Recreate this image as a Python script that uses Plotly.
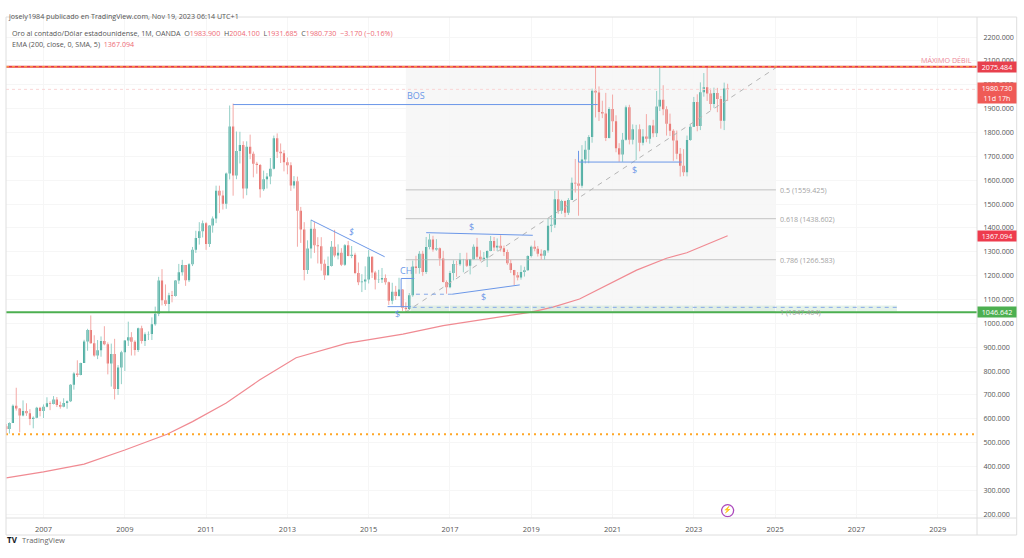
import pandas as pd
import plotly.graph_objects as go

# velas mensuales XAUUSD (ene 2006 - nov 2023)
months = pd.date_range('2006-01-01', '2023-11-01', freq='MS')

opens = [
    517, 569, 557, 582, 654, 643, 614, 632, 623, 599, 604, 646,
    632, 650, 665, 662, 681, 658, 650, 666, 673, 743, 790, 783,
    834, 924, 972, 917, 865, 887, 926, 912, 832, 871, 725, 815,
    879, 928, 942, 923, 888, 979, 926, 954, 955, 996, 1040, 1180,
    1097, 1081, 1118, 1115, 1179, 1214, 1244, 1181, 1248, 1308, 1358, 1386,
    1420, 1333, 1410, 1439, 1556, 1536, 1501, 1628, 1825, 1620, 1722, 1747,
    1565, 1740, 1711, 1669, 1664, 1562, 1604, 1615, 1648, 1776, 1719, 1713,
    1675, 1663, 1578, 1596, 1472, 1393, 1224, 1314, 1396, 1327, 1323, 1250,
    1201, 1240, 1321, 1284, 1296, 1246, 1327, 1282, 1287, 1211, 1172, 1175,
    1184, 1279, 1213, 1183, 1184, 1190, 1172, 1095, 1132, 1115, 1142, 1065,
    1060, 1118, 1238, 1232, 1292, 1215, 1320, 1351, 1309, 1315, 1272, 1173,
    1151, 1211, 1249, 1248, 1268, 1268, 1241, 1269, 1321, 1279, 1270, 1275,
    1303, 1345, 1318, 1325, 1315, 1299, 1252, 1224, 1201, 1192, 1215, 1222,
    1282, 1321, 1313, 1292, 1283, 1305, 1409, 1413, 1520, 1472, 1513, 1464,
    1517, 1589, 1586, 1577, 1687, 1728, 1781, 1975, 1968, 1886, 1879, 1777,
    1898, 1847, 1734, 1708, 1769, 1906, 1770, 1814, 1814, 1757, 1783, 1774,
    1829, 1797, 1909, 1937, 1897, 1837, 1807, 1766, 1711, 1661, 1633, 1768,
    1824, 1928, 1827, 1969, 1990, 1963, 1919, 1965, 1940, 1849, 1983.9,
]
highs = [
    570, 578, 585, 660, 730, 642, 677, 665, 640, 610, 650, 650,
    660, 690, 673, 695, 691, 672, 686, 677, 745, 795, 845, 835,
    931, 977, 1033, 950, 930, 945, 988, 920, 915, 935, 825, 885,
    930, 1007, 963, 929, 982, 990, 962, 966, 1025, 1070, 1195, 1227,
    1163, 1128, 1136, 1178, 1249, 1266, 1244, 1252, 1320, 1388, 1424, 1431,
    1424, 1412, 1448, 1577, 1577, 1557, 1632, 1913, 1921, 1804, 1803, 1763,
    1763, 1791, 1720, 1677, 1668, 1640, 1630, 1693, 1787, 1796, 1754, 1726,
    1695, 1675, 1617, 1615, 1488, 1424, 1348, 1434, 1424, 1361, 1361, 1267,
    1280, 1345, 1392, 1331, 1315, 1332, 1345, 1324, 1296, 1255, 1206, 1239,
    1307, 1280, 1220, 1224, 1232, 1205, 1175, 1170, 1157, 1191, 1142, 1088,
    1127, 1263, 1283, 1303, 1304, 1362, 1375, 1367, 1353, 1318, 1304, 1180,
    1220, 1264, 1262, 1295, 1270, 1296, 1270, 1331, 1358, 1306, 1299, 1306,
    1366, 1362, 1356, 1369, 1326, 1309, 1266, 1224, 1215, 1243, 1237, 1285,
    1326, 1347, 1324, 1310, 1304, 1439, 1453, 1555, 1557, 1518, 1515, 1525,
    1611, 1689, 1704, 1747, 1765, 1789, 1984, 2075, 1993, 1933, 1966, 1906,
    1959, 1872, 1755, 1798, 1913, 1916, 1834, 1832, 1834, 1814, 1877, 1831,
    1853, 1974, 2070, 1998, 1910, 1879, 1814, 1808, 1735, 1730, 1787, 1833,
    1949, 1960, 2010, 2049, 2079, 1984, 1988, 1987, 1953, 2009, 2004.1,
]
lows = [
    516, 538, 538, 582, 634, 543, 610, 612, 573, 560, 602, 610,
    603, 648, 636, 660, 649, 642, 648, 642, 670, 722, 775, 782,
    834, 885, 915, 860, 850, 860, 908, 786, 735, 681, 700, 745,
    800, 905, 865, 865, 880, 915, 905, 930, 930, 990, 1030, 1075,
    1073, 1045, 1088, 1112, 1165, 1200, 1157, 1173, 1240, 1295, 1330, 1360,
    1308, 1320, 1380, 1420, 1462, 1477, 1480, 1603, 1535, 1604, 1670, 1523,
    1537, 1688, 1612, 1627, 1527, 1555, 1565, 1583, 1645, 1693, 1672, 1637,
    1625, 1555, 1565, 1321, 1337, 1180, 1207, 1272, 1295, 1251, 1221, 1182,
    1202, 1238, 1277, 1268, 1240, 1241, 1281, 1273, 1206, 1160, 1131, 1140,
    1167, 1190, 1142, 1169, 1169, 1162, 1077, 1080, 1098, 1112, 1052, 1046,
    1061, 1111, 1208, 1208, 1199, 1207, 1310, 1300, 1304, 1241, 1171, 1124,
    1147, 1180, 1195, 1241, 1214, 1236, 1205, 1267, 1271, 1260, 1264, 1236,
    1302, 1303, 1303, 1301, 1282, 1245, 1211, 1160, 1180, 1183, 1196, 1221,
    1276, 1302, 1280, 1266, 1266, 1296, 1382, 1400, 1459, 1459, 1445, 1454,
    1517, 1548, 1451, 1568, 1670, 1671, 1757, 1863, 1848, 1860, 1764, 1775,
    1802, 1717, 1677, 1677, 1766, 1750, 1750, 1684, 1721, 1746, 1759, 1753,
    1780, 1781, 1890, 1872, 1787, 1785, 1681, 1688, 1615, 1617, 1616, 1765,
    1824, 1805, 1810, 1950, 1932, 1893, 1903, 1885, 1816, 1810, 1931.685,
]
closes = [
    569, 557, 582, 654, 643, 614, 632, 623, 599, 604, 646, 632,
    650, 665, 662, 681, 658, 650, 666, 673, 743, 790, 783, 834,
    924, 972, 917, 865, 887, 926, 912, 832, 871, 725, 815, 879,
    928, 942, 923, 888, 979, 926, 954, 955, 996, 1040, 1180, 1097,
    1081, 1118, 1115, 1179, 1214, 1244, 1181, 1248, 1308, 1358, 1386, 1420,
    1333, 1410, 1439, 1556, 1536, 1501, 1628, 1825, 1620, 1722, 1747, 1565,
    1740, 1711, 1669, 1664, 1562, 1604, 1615, 1648, 1776, 1719, 1713, 1675,
    1663, 1578, 1596, 1472, 1393, 1224, 1314, 1396, 1327, 1323, 1250, 1201,
    1240, 1321, 1284, 1296, 1246, 1327, 1282, 1287, 1211, 1172, 1175, 1184,
    1279, 1213, 1183, 1184, 1190, 1172, 1095, 1132, 1115, 1142, 1065, 1060,
    1118, 1238, 1232, 1292, 1215, 1320, 1351, 1309, 1315, 1272, 1173, 1151,
    1211, 1249, 1248, 1268, 1268, 1241, 1269, 1321, 1279, 1270, 1275, 1303,
    1345, 1318, 1325, 1315, 1299, 1252, 1224, 1201, 1192, 1215, 1222, 1282,
    1321, 1313, 1292, 1283, 1305, 1409, 1413, 1520, 1472, 1513, 1464, 1517,
    1589, 1586, 1577, 1687, 1728, 1781, 1975, 1968, 1886, 1879, 1777, 1898,
    1847, 1734, 1708, 1769, 1906, 1770, 1814, 1814, 1757, 1783, 1774, 1829,
    1797, 1909, 1937, 1897, 1837, 1807, 1766, 1711, 1661, 1633, 1768, 1824,
    1928, 1827, 1969, 1990, 1963, 1919, 1965, 1940, 1849, 1983.9, 1980.73,
]

ema_dates = ['2006-02-01', '2007-01-01', '2008-01-01', '2009-01-01', '2010-01-15', '2010-09-01',
             '2011-07-01', '2012-04-25', '2013-03-20', '2014-06-15', '2015-11-05', '2016-11-01',
             '2018-12-20', '2019-07-15', '2020-03-10', '2020-12-10', '2021-08-05', '2022-05-01',
             '2022-10-30', '2023-11-01']
ema_values = [352, 377, 410, 469, 535, 588, 666, 762, 856, 916, 955, 990,
              1046, 1068, 1102, 1168, 1223, 1273, 1296, 1367.094]

strong_high = 2075.484
last_price = 1980.73
ema_last = 1367.094
strong_low = 1046.642
old_support = 535

fib_levels = [0.5, 0.618, 0.786, 1]
fib_prices = [1559.425, 1438.602, 1266.583, 1047.464]
fib_top = 2071.386
fib_start = '2015-12-01'
fib_end = '2025-01-08'
fib_label_date = '2025-01-25'

# dibujos azules: fechas y precios
drawings = [
    (['2011-09-01', '2020-08-20'], [1917, 1917]),
    (['2013-08-01', '2015-05-25'], [1433, 1279]),
    (['2015-06-20', '2016-01-15'], [1070, 1070]),
    (['2015-10-20', '2015-10-20', '2016-02-15'], [1070, 1188, 1188]),
    (['2016-06-01', '2019-01-15'], [1380, 1369]),
    (['2017-01-20', '2018-09-20'], [1122, 1161]),
    (['2020-03-01', '2020-03-01', '2022-09-15'], [1723, 1676, 1676]),
]
dashed_blue = [
    (['2016-03-01', '2017-01-20'], [1122, 1122]),
    (['2016-02-01', '2028-01-01'], [1067, 1067]),
]
zone_dates = ['2016-01-15', '2028-01-01']
zone_prices = [1049, 1075]

labels = [
    ('BOS', '2016-03-01', 1953),
    ('<i>$</i>', '2014-07-30', 1384),
    ('CH', '2015-12-01', 1223),
    ('$', '2015-09-15', 1043),
    ('$', '2017-07-15', 1405),
    ('$', '2017-10-25', 1112),
    ('$', '2021-07-20', 1645),
]

BLUE = '#6b97e8'
GREY_TEXT = '#a3a3a3'
FONT = 'Open Sans'
TEXT_SIZE = 7.15

fig = go.Figure()

fig.add_shape(type='rect', x0=fib_start, x1=fib_end, y0=fib_prices[-1], y1=fib_top,
              fillcolor='#f7f7f7', line_width=0, layer='below')
fig.add_shape(type='rect', x0=zone_dates[0], x1=zone_dates[1], y0=zone_prices[0], y1=zone_prices[1],
              fillcolor='rgba(190,225,200,0.4)', line_width=0, layer='below')

for price in fib_prices:
    fig.add_trace(go.Scatter(x=[fib_start, fib_end], y=[price, price], mode='lines',
                             line=dict(color='#b5b5b5', width=0.8), hoverinfo='skip'))

# la mecha es mas palida que el cuerpo: mechas como lineas y cuerpos encima
wick_x = {True: [], False: []}
wick_y = {True: [], False: []}
for month, o, h, l, c in zip(months, opens, highs, lows, closes):
    is_up = c >= o
    wick_x[is_up] += [month, month, None]
    wick_y[is_up] += [l, h, None]

fig.add_trace(go.Scatter(x=wick_x[True], y=wick_y[True], mode='lines',
                         line=dict(color='#93cfc7', width=1), hoverinfo='skip'))
fig.add_trace(go.Scatter(x=wick_x[False], y=wick_y[False], mode='lines',
                         line=dict(color='#f3a9a6', width=1), hoverinfo='skip'))
fig.add_trace(go.Candlestick(
    x=months, open=opens, high=highs, low=lows, close=closes,
    increasing=dict(line=dict(color='#23988a', width=0), fillcolor='#23988a'),
    decreasing=dict(line=dict(color='#e05550', width=0), fillcolor='#e05550'),
    hoverinfo='skip',
))

fig.add_trace(go.Scatter(x=ema_dates, y=ema_values, mode='lines',
                         line=dict(color='#f08a92', width=1.2), hoverinfo='skip'))
fig.add_trace(go.Scatter(x=[fib_start, fib_end], y=[fib_prices[-1], fib_top], mode='lines',
                         line=dict(color='#b5b5b5', width=1, dash='5px,5px'), hoverinfo='skip'))

for xs, ys in drawings:
    fig.add_trace(go.Scatter(x=xs, y=ys, mode='lines', line=dict(color=BLUE, width=1), hoverinfo='skip'))
for xs, ys in dashed_blue:
    fig.add_trace(go.Scatter(x=xs, y=ys, mode='lines', line=dict(color='#86a8e8', width=1, dash='4px,4px'),
                             hoverinfo='skip'))

fig.add_trace(go.Scatter(x=['2023-11-01'], y=[215], mode='markers+text', text=['⚡'],
                         textposition='middle center', textfont=dict(size=7, color='#ab47bc'),
                         marker=dict(symbol='circle-open', size=12, color='#ab47bc', line=dict(width=1.3)),
                         hoverinfo='skip'))

fig.add_hline(y=last_price, line=dict(color='#f9d5d5', width=1, dash='dot'))
fig.add_hline(y=old_support, line=dict(color='#ffa726', width=2, dash='2px,4px'))
fig.add_hline(y=strong_low, line=dict(color='#4caf50', width=2))
fig.add_hline(y=strong_high, line=dict(color='#e53945', width=2))
fig.add_hline(y=strong_high, line=dict(color='#ffb13d', width=1, dash='3px,3px'))

for text, date, price in labels:
    fig.add_annotation(x=date, y=price, text=text, showarrow=False, font=dict(size=9, color=BLUE, family=FONT))

for level, price in zip(fib_levels, fib_prices):
    fig.add_annotation(x=fib_label_date, y=price, text=f'{level} ({price:.3f})', showarrow=False,
                       xanchor='left', font=dict(size=TEXT_SIZE, color=GREY_TEXT, family=FONT))

fig.add_annotation(xref='paper', x=0.997, y=2104, text='MÁXIMO DÉBIL', showarrow=False, xanchor='right',
                   font=dict(size=TEXT_SIZE, color='#ee8a9a', family=FONT))

badges = [
    (strong_high, '2075.484', '#e8404d', 10),
    (last_price - 17, '1980.730<br>11d 17h', '#ef5a56', 20),
    (ema_last, '1367.094', '#ee3b4d', 10),
    (strong_low, '1046.642', '#4caf50', 10),
]
for price, text, color, height in badges:
    fig.add_annotation(xref='paper', x=1, y=price, text=text, showarrow=False, xanchor='left', width=38,
                       height=height, bgcolor=color, borderpad=0, align='center',
                       font=dict(size=TEXT_SIZE, color='white', family=FONT))

# textos de cabecera y pie en coordenadas de pagina
PLOT_L, PLOT_R, PLOT_T, PLOT_B = 6, 977, 17, 518


def page_x(px):
    return (px - PLOT_L) / (PLOT_R - PLOT_L)


def page_y(py):
    return (PLOT_B - py) / (PLOT_B - PLOT_T)


red = '#ee6a75'
header_line = (
    'Oro al contado/Dólar estadounidense, 1M, OANDA  '
    f'O<span style="color:{red}">1983.900</span>  H<span style="color:{red}">2004.100</span>  '
    f'L<span style="color:{red}">1931.685</span>  C<span style="color:{red}">1980.730</span>  '
    f'<span style="color:{red}">−3.170 (−0.16%)</span>'
)
page_texts = [
    (6, 9, 'josely1984 publicado en TradingView.com, Nov 19, 2023 06:14 UTC+1', '#555555', TEXT_SIZE),
    (10, 26, header_line, '#555555', TEXT_SIZE),
    (10, 37, f'EMA (200, close, 0, SMA, 5)  <span style="color:{red}">1367.094</span>', '#555555', TEXT_SIZE),
    (5, 547, '<b>TV</b>', '#131722', 8),
    (20, 547, 'TradingView', '#666666', 7.5),
]
for px, py, text, color, size in page_texts:
    fig.add_annotation(xref='paper', yref='paper', x=page_x(px), y=page_y(py), text=text, showarrow=False,
                       xanchor='left', font=dict(size=size, color=color, family=FONT))

# marco del grafico
FRAME = '#dedede'
fig.add_shape(type='rect', xref='paper', yref='paper', x0=0, x1=page_x(1016.7), y0=page_y(535), y1=1,
              line=dict(color=FRAME, width=1))
fig.add_shape(type='line', xref='paper', yref='paper', x0=1, x1=1, y0=page_y(535), y1=1,
              line=dict(color=FRAME, width=1))
fig.add_shape(type='line', xref='paper', yref='paper', x0=0, x1=page_x(1016.7), y0=0, y1=0,
              line=dict(color=FRAME, width=1))

fig.update_layout(
    width=1024,
    height=558,
    autosize=False,
    showlegend=False,
    margin=dict(l=PLOT_L, r=1024 - PLOT_R, t=PLOT_T, b=558 - PLOT_B),
    paper_bgcolor='white',
    plot_bgcolor='white',
    font=dict(family=FONT, color='#555555'),
    boxmode='overlay',
    boxgap=0.02,
    xaxis=dict(
        type='date',
        range=['2006-01-29', '2029-12-20'],
        tick0='2007-01-01',
        dtick='M24',
        tickformat='%Y',
        ticks='outside',
        ticklen=4,
        tickcolor='white',
        tickfont=dict(size=7.5, color='#555555'),
        showgrid=True,
        gridcolor='#f6f6f6',
        zeroline=False,
        rangeslider_visible=False,
    ),
    yaxis=dict(
        side='right',
        range=[184, 2284],
        tick0=200,
        dtick=100,
        tickformat='.3f',
        ticks='outside',
        ticklen=4,
        tickcolor='white',
        tickfont=dict(size=TEXT_SIZE, color='#555555'),
        showgrid=True,
        gridcolor='#f6f6f6',
        zeroline=False,
    ),
)

# sin el margen por defecto del navegador
fig.write_html("out.html", config={'displayModeBar': False},
               post_script="document.body.style.margin='0';")
